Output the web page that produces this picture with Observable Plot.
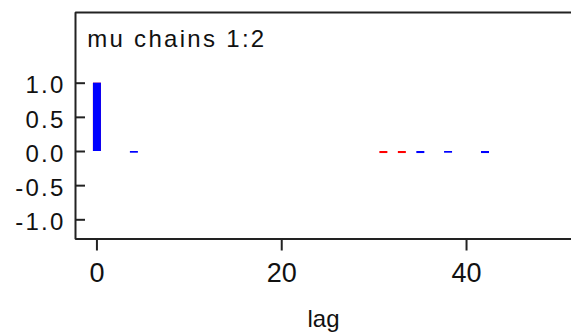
<!DOCTYPE html>
<html>
<head>
<meta charset="utf-8">
<script src="https://cdn.jsdelivr.net/npm/d3@7"></script>
<script src="https://cdn.jsdelivr.net/npm/@observablehq/plot@0.6"></script>
<style>
  html, body { margin: 0; padding: 0; background: #fff; overflow: hidden; }
  #chart svg { display: block; }
</style>
</head>
<body>
<div id="chart"></div>
<script>
// ---- data ----
const chains = ["chain 1", "chain 2"];
const chainColors = ["#0000ff", "#ff0000"];
// autocorrelation by lag, chain 2 (red) drawn first, chain 1 (blue) on top
const chain2Lags = [0, 31, 33];
const chain2Values = [1.0, -0.03, -0.03];
const chain1Lags = [0, 4, 35, 38, 42];
const chain1Values = [1.0, -0.025, -0.03, -0.025, -0.03];
const xTicks = [0, 20, 40];
const yTicks = [-1.0, -0.5, 0.0, 0.5, 1.0];
const yTickLabels = ["-1.0", "-0.5", "0.0", "0.5", "1.0"];
const xDomain = [-2.32, 51.36];
const yDomain = [-1.281, 2.035];
const title = "mu chains 1:2";
const xLabel = "lag";

const rows = [
  ...chain2Lags.map((lag, i) => ({chain: chains[1], lag, value: chain2Values[i]})),
  ...chain1Lags.map((lag, i) => ({chain: chains[0], lag, value: chain1Values[i]}))
];
// open frame: bottom edge -> left edge -> top edge (right edge lies outside the picture)
const framePath = [
  {x: xDomain[1] + 1, y: yDomain[0]},
  {x: xDomain[0], y: yDomain[0]},
  {x: xDomain[0], y: yDomain[1]},
  {x: xDomain[1] + 1, y: yDomain[1]}
];
// inward y ticks: about one lag unit long, starting at the left frame edge
const yTickRows = yTicks.map((y) => ({y, x1: xDomain[0], x2: xDomain[0] + 1.08}));

const font = "'Liberation Sans', Arial, sans-serif";

const plot = Plot.plot({
  width: 571,
  height: 336,
  marginLeft: 75,
  marginRight: 0,
  marginTop: 12,
  marginBottom: 97.5,
  style: {fontFamily: font, color: "#000", background: "#fff"},
  x: {domain: xDomain},
  y: {domain: yDomain},
  color: {domain: chains, range: chainColors},
  marks: [
    Plot.ruleX(rows, {x: "lag", y1: 0, y2: "value", stroke: "chain", strokeWidth: 8}),
    Plot.line(framePath, {x: "x", y: "y", stroke: "#222", strokeWidth: 2, strokeLinejoin: "miter", curve: "linear"}),
    // y axis: inward ticks + labels
    Plot.ruleY(yTickRows, {y: "y", x1: "x1", x2: "x2", stroke: "#222", strokeWidth: 2}),
    Plot.axisY({ticks: yTicks, tickSize: 0, tickPadding: 10, tickFormat: (d) => yTickLabels[yTicks.indexOf(d)],
      fontSize: 24, fill: "#111", dy: 2.5, label: null}),
    // x axis: outward ticks + labels
    Plot.axisX({ticks: xTicks, tickSize: 12, text: null, stroke: "#222", strokeWidth: 2, label: null}),
    Plot.axisX({ticks: xTicks, tickSize: 0, tickPadding: 23.5, fontSize: 27, fill: "#111", label: null}),
    Plot.text([xLabel], {frameAnchor: "bottom", dy: 88, lineAnchor: "bottom", fontSize: 24, fill: "#111"}),
    Plot.text([title], {frameAnchor: "top-left", textAnchor: "start", lineAnchor: "bottom", dx: 11.7, dy: 34,
      fontSize: 24, fill: "#111"})
  ]
});

d3.select(plot).selectAll("text")
  .filter(function () { return this.textContent === title; })
  .style("letter-spacing", "2.3px");
d3.select(plot).selectAll("text")
  .filter(function () { return yTickLabels.includes(this.textContent); })
  .style("letter-spacing", "2.2px");
document.getElementById("chart").appendChild(plot);
</script>
</body>
</html>
